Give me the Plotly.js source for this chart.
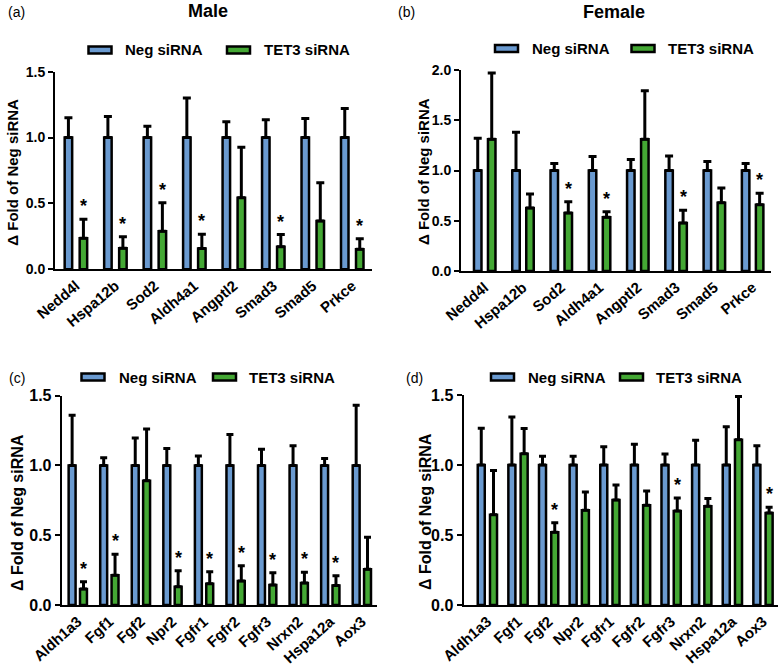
<!DOCTYPE html>
<html><head><meta charset="utf-8">
<script src="https://cdn.plot.ly/plotly-3.0.1.min.js"></script>
<style>html,body{margin:0;padding:0;background:#fff}#chart{width:782px;height:670px}</style>
</head><body><div id="chart"></div>
<script>
// ---------------- DATA ----------------
const seriesNames = ['Neg siRNA', 'TET3 siRNA'];
const panelTitles = ['Male', 'Female'];
const panelLabels = ['(a)', '(b)', '(c)', '(d)'];
const yTitle = 'Δ Fold of Neg siRNA';

const catsTop = ['Nedd4l', 'Hspa12b', 'Sod2', 'Aldh4a1', 'Angptl2', 'Smad3', 'Smad5', 'Prkce'];
const catsBottom = ['Aldh1a3', 'Fgf1', 'Fgf2', 'Npr2', 'Fgfr1', 'Fgfr2', 'Fgfr3', 'Nrxn2', 'Hspa12a', 'Aox3'];

// (a) Male
const negA    = [1, 1, 1, 1, 1, 1, 1, 1];
const negErrA = [0.15, 0.16, 0.085, 0.30, 0.12, 0.135, 0.145, 0.22];
const tetA    = [0.235, 0.159, 0.288, 0.157, 0.544, 0.172, 0.367, 0.152];
const tetErrA = [0.145, 0.088, 0.218, 0.11, 0.382, 0.092, 0.29, 0.08];
const sigA    = [1, 1, 1, 1, 0, 1, 0, 1];

// (b) Female
const negB    = [1, 1, 1, 1, 1, 1, 1, 1];
const negErrB = [0.32, 0.38, 0.07, 0.14, 0.11, 0.145, 0.09, 0.07];
const tetB    = [1.31, 0.627, 0.577, 0.534, 1.31, 0.478, 0.68, 0.66];
const tetErrB = [0.66, 0.139, 0.113, 0.056, 0.484, 0.126, 0.146, 0.113];
const sigB    = [0, 0, 1, 1, 0, 1, 0, 1];

// (c)
const negC    = [1, 1, 1, 1, 1, 1, 1, 1, 1, 1];
const negErrC = [0.36, 0.055, 0.196, 0.122, 0.067, 0.222, 0.117, 0.141, 0.05, 0.432];
const tetC    = [0.115, 0.213, 0.891, 0.131, 0.153, 0.172, 0.143, 0.158, 0.139, 0.256];
const tetErrC = [0.052, 0.15, 0.37, 0.115, 0.086, 0.11, 0.089, 0.076, 0.071, 0.229];
const sigC    = [1, 1, 0, 1, 1, 1, 1, 1, 1, 0];

// (d)
const negD    = [1, 1, 1, 1, 1, 1, 1, 1, 1, 1];
const negErrD = [0.262, 0.343, 0.062, 0.062, 0.131, 0.148, 0.079, 0.176, 0.274, 0.138];
const tetD    = [0.645, 1.081, 0.519, 0.676, 0.75, 0.712, 0.671, 0.705, 1.181, 0.657];
const tetErrD = [0.315, 0.179, 0.069, 0.131, 0.107, 0.102, 0.093, 0.055, 0.309, 0.041];
const sigD    = [0, 0, 1, 0, 0, 0, 1, 0, 0, 1];

// ---------------- STYLE / LAYOUT ----------------
const W = 782, H = 670;
const BLUE = '#6a9ad0', GREEN = '#44a834';
const FONT = 'Liberation Sans, Arial, Helvetica, sans-serif';
const px = x => x / W;
const py = y => 1 - y / H;

const panels = [
  {cats: catsTop, neg: negA, negErr: negErrA, tet: tetA, tetErr: tetErrA, sig: sigA,
   xd: [55, 372], yd: [71.7, 269.3], xr: [-0.53, 7.5], yr: [0, 1.5],
   sep: 0.19, bw: 0.19, capW: 4, tickFont: 14, xFont: 15, angle: -40, ytFont: 15,
   yt: [11.7, 172], leg: {y: 50, s1: 100, t1: 123, s2: 238.5, t2: 262},
   label: [6, 12], title: {text: panelTitles[0], x: 208, y: 11}},
  {cats: catsTop, neg: negB, negErr: negErrB, tet: tetB, tetErr: tetErrB, sig: sigB,
   xd: [461, 771], yd: [70, 271], xr: [-0.62, 7.48], yr: [0, 2.0],
   sep: 0.183, bw: 0.196, capW: 4, tickFont: 14, xFont: 15, angle: -40, ytFont: 15,
   yt: [423, 172], leg: {y: 48.5, s1: 506.5, t1: 530, s2: 643, t2: 666},
   label: [396, 12], title: {text: panelTitles[1], x: 613.7, y: 11.7}},
  {cats: catsBottom, neg: negC, negErr: negErrC, tet: tetC, tetErr: tetErrC, sig: sigC,
   xd: [61.7, 377], yd: [395.7, 605], xr: [-0.51, 9.48], yr: [0, 1.5],
   sep: 0.18, bw: 0.22, capW: 3.5, tickFont: 16, xFont: 15, angle: -42, ytFont: 16,
   yt: [17, 513], leg: {y: 377, s1: 93, t1: 117, s2: 224.5, t2: 247},
   label: [7, 378], title: null},
  {cats: catsBottom, neg: negD, negErr: negErrD, tet: tetD, tetErr: tetErrD, sig: sigD,
   xd: [463.5, 778], yd: [395, 605], xr: [-0.78, 9.49], yr: [0, 1.5],
   sep: 0.2, bw: 0.23, capW: 3.5, tickFont: 16, xFont: 15, angle: -42, ytFont: 16,
   yt: [425, 512], leg: {y: 377, s1: 502.5, t1: 526, s2: 631.5, t2: 654},
   label: [404, 378], title: null}
];

const traces = [];
const layout = {
  width: W, height: H,
  margin: {l: 0, r: 0, t: 0, b: 0},
  paper_bgcolor: '#ffffff', plot_bgcolor: 'rgba(0,0,0,0)',
  barmode: 'overlay', showlegend: false,
  font: {family: FONT, color: '#000'},
  annotations: [], shapes: []
};

panels.forEach((p, i) => {
  const n = i === 0 ? '' : String(i + 1);
  const xa = 'x' + n, ya = 'y' + n;
  const pxPerUnit = (p.xd[1] - p.xd[0]) / (p.xr[1] - p.xr[0]);
  const zeros = p.cats.map(() => 0);

  traces.push({
    type: 'bar', x: p.cats, y: p.neg, xaxis: xa, yaxis: ya, name: seriesNames[0],
    width: p.bw, offset: -p.sep - p.bw / 2,
    marker: {color: BLUE, line: {color: '#000', width: 2.5}},
    error_y: {type: 'data', symmetric: false, array: p.negErr, arrayminus: zeros,
              color: '#000', thickness: 3, width: p.capW},
    hoverinfo: 'x+y'
  });
  traces.push({
    type: 'bar', x: p.cats, y: p.tet, xaxis: xa, yaxis: ya, name: seriesNames[1],
    width: p.bw, offset: p.sep - p.bw / 2,
    marker: {color: GREEN, line: {color: '#000', width: 2.5}},
    error_y: {type: 'data', symmetric: false, array: p.tetErr, arrayminus: zeros,
              color: '#000', thickness: 3, width: p.capW},
    hoverinfo: 'x+y'
  });

  layout['xaxis' + n] = {
    domain: [px(p.xd[0]), px(p.xd[1])], anchor: ya, type: 'category',
    range: p.xr, showline: true, linecolor: '#000', linewidth: 2,
    ticks: '', showgrid: false, zeroline: false, tickangle: p.angle,
    tickfont: {family: FONT, size: p.xFont, weight: 'bold', color: '#000'},
    fixedrange: true
  };
  layout['yaxis' + n] = {
    domain: [py(p.yd[1]), py(p.yd[0])], anchor: xa,
    range: p.yr, dtick: 0.5, tick0: 0, tickformat: '.1f',
    showline: true, linecolor: '#000', linewidth: 2,
    ticks: 'outside', ticklen: 5, tickwidth: 2, tickcolor: '#000',
    showgrid: false, zeroline: false,
    tickfont: {family: FONT, size: p.tickFont, weight: 'bold', color: '#000'},
    fixedrange: true
  };

  // y-axis title
  layout.annotations.push({
    xref: 'paper', yref: 'paper', x: px(p.yt[0]), y: py(p.yt[1]),
    xanchor: 'center', yanchor: 'middle', textangle: -90, showarrow: false,
    text: yTitle, font: {family: FONT, size: p.ytFont, weight: 'bold', color: '#000'}
  });

  // significance asterisks over TET3 bars
  p.cats.forEach((c, j) => {
    if (p.sig[j]) {
      layout.annotations.push({
        xref: xa, yref: ya, x: c, y: p.tet[j] + p.tetErr[j],
        xshift: p.sep * pxPerUnit, yshift: 1,
        xanchor: 'center', yanchor: 'bottom', showarrow: false,
        text: '*', font: {family: FONT, size: 18, weight: 'bold', color: '#000'}
      });
    }
  });

  // legend (swatches + labels)
  const L = p.leg;
  [[L.s1, L.t1, BLUE, seriesNames[0]], [L.s2, L.t2, GREEN, seriesNames[1]]].forEach(([sx, tx, col, name]) => {
    layout.shapes.push({
      type: 'rect', xref: 'paper', yref: 'paper',
      x0: px(sx - 11.5), x1: px(sx + 11.5), y0: py(L.y + 3.5), y1: py(L.y - 3.5),
      fillcolor: col, line: {color: '#000', width: 2.5}
    });
    layout.annotations.push({
      xref: 'paper', yref: 'paper', x: px(tx), y: py(L.y),
      xanchor: 'left', yanchor: 'middle', showarrow: false, text: name,
      font: {family: FONT, size: 15, weight: 'bold', color: '#000'}
    });
  });

  // panel label
  layout.annotations.push({
    xref: 'paper', yref: 'paper', x: px(p.label[0]), y: py(p.label[1]),
    xanchor: 'left', yanchor: 'middle', showarrow: false, text: panelLabels[i],
    font: {family: FONT, size: 14, color: '#000'}
  });

  // panel title
  if (p.title) {
    layout.annotations.push({
      xref: 'paper', yref: 'paper', x: px(p.title.x), y: py(p.title.y),
      xanchor: 'center', yanchor: 'middle', showarrow: false, text: p.title.text,
      font: {family: FONT, size: 18, weight: 'bold', color: '#000'}
    });
  }
});

Plotly.newPlot('chart', traces, layout, {displayModeBar: false, staticPlot: true});
</script>
</body></html>
